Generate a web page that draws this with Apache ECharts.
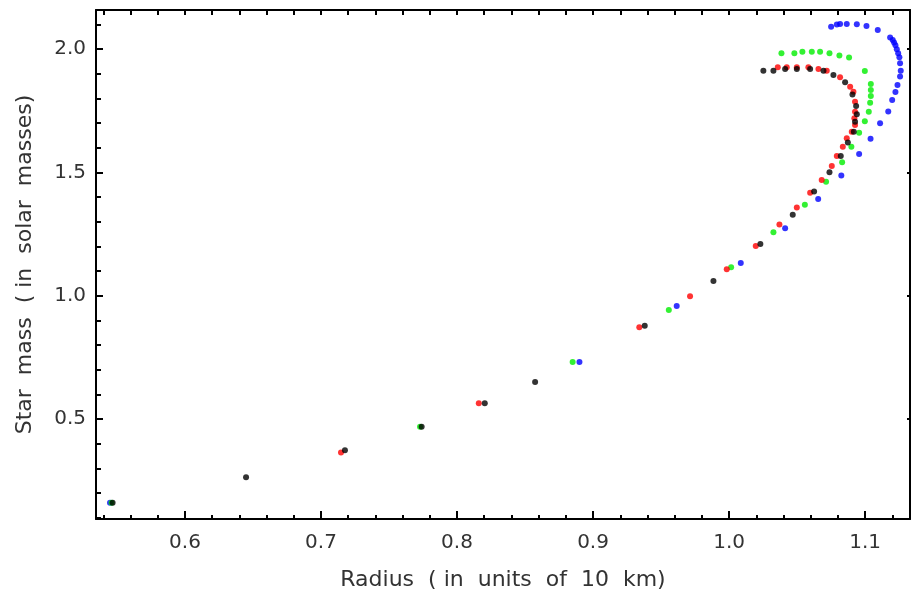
<!DOCTYPE html>
<html>
<head>
<meta charset="utf-8">
<script src="https://cdn.jsdelivr.net/npm/echarts@6/dist/echarts.min.js"></script>
<style>
  html, body { margin: 0; padding: 0; background: #fff; }
  #chart { width: 911px; height: 598px; }
</style>
</head>
<body>
<div id="chart"></div>
<script>
// Star mass vs radius, four runs (radius in 10 km, mass in solar masses)
const blackPoints = [
    [0.5468, 0.161], [0.6449, 0.264], [0.7176, 0.374], [0.774, 0.469], [0.8204, 0.564],
    [0.8574, 0.650], [0.938, 0.878], [0.9885, 1.060], [1.023, 1.210], [1.0468, 1.328],
    [1.0625, 1.422], [1.0738, 1.500], [1.0821, 1.566], [1.0873, 1.621], [1.0917, 1.665],
    [1.0926, 1.705], [1.0939, 1.735], [1.0934, 1.769], [1.0907, 1.816], [1.0853, 1.865],
    [1.0767, 1.895], [1.0694, 1.912], [1.0596, 1.919], [1.0498, 1.919], [1.0412, 1.919],
    [1.0326, 1.912], [1.0252, 1.912]
];
const redPoints = [
    [0.7147, 0.365], [0.816, 0.564], [0.934, 0.872], [0.9713, 0.998], [0.9983, 1.107],
    [1.0196, 1.201], [1.037, 1.289], [1.0498, 1.358], [1.0596, 1.417], [1.0681, 1.469],
    [1.0755, 1.526], [1.0792, 1.566], [1.0836, 1.604], [1.0865, 1.638], [1.0902, 1.665],
    [1.0926, 1.692], [1.0921, 1.719], [1.0926, 1.746], [1.0926, 1.786], [1.0914, 1.827],
    [1.0890, 1.847], [1.0816, 1.885], [1.0718, 1.912], [1.0657, 1.919], [1.0583, 1.926],
    [1.0498, 1.926], [1.0424, 1.926], [1.0358, 1.926]
];
const greenPoints = [
    [0.546, 0.161], [0.7728, 0.469], [0.885, 0.731], [0.9557, 0.942], [1.0015, 1.115],
    [1.0326, 1.257], [1.0557, 1.369], [1.0713, 1.462], [1.0831, 1.541], [1.0899, 1.604],
    [1.0956, 1.660], [1.0998, 1.707], [1.1027, 1.746], [1.1037, 1.782], [1.1042, 1.809],
    [1.1042, 1.834], [1.1042, 1.858], [1.0998, 1.911], [1.0882, 1.965], [1.0811, 1.974],
    [1.0738, 1.983], [1.0669, 1.989], [1.0608, 1.989], [1.0539, 1.989], [1.048, 1.983],
    [1.0385, 1.983]
];
const bluePoints = [
    [0.5449, 0.161], [0.890, 0.731], [0.9615, 0.958], [1.0086, 1.133], [1.0412, 1.273],
    [1.0655, 1.392], [1.0825, 1.487], [1.0956, 1.574], [1.104, 1.636], [1.111, 1.699],
    [1.117, 1.747], [1.1199, 1.793], [1.1223, 1.826], [1.1238, 1.854], [1.1257, 1.888],
    [1.1262, 1.912], [1.1257, 1.942], [1.1252, 1.966], [1.1243, 1.983], [1.1233, 1.999],
    [1.1223, 2.015], [1.1213, 2.026], [1.1203, 2.036], [1.1184, 2.047], [1.1093, 2.077],
    [1.101, 2.093], [1.0939, 2.100], [1.0865, 2.101], [1.0816, 2.101], [1.0792, 2.099],
    [1.075, 2.090]
];

// Tick positions
const xMajorTicks = [0.6, 0.7, 0.8, 0.9, 1.0, 1.1];
const xMinorTicks = [0.54, 0.56, 0.58, 0.62, 0.64, 0.66, 0.68, 0.72, 0.74, 0.76, 0.78,
    0.82, 0.84, 0.86, 0.88, 0.92, 0.94, 0.96, 0.98, 1.02, 1.04, 1.06, 1.08, 1.12];
const yMajorTicks = [0.5, 1.0, 1.5, 2.0];
const yMinorTicks = [0.1, 0.2, 0.3, 0.4, 0.6, 0.7, 0.8, 0.9, 1.1, 1.2, 1.3, 1.4,
    1.6, 1.7, 1.8, 1.9, 2.1];

const xRange = [0.5346, 1.133];
const yRange = [0.095, 2.158];

const FONT = '"DejaVu Sans", Verdana, sans-serif';
const lineStyle = { color: '#000', width: 2 };

function scatter(name, data, color) {
    return {
        name: name,
        type: 'scatter',
        data: data,
        symbol: 'circle',
        symbolSize: 6,
        itemStyle: { color: color },
        xAxisIndex: 0,
        yAxisIndex: 0,
        silent: true
    };
}

const chart = echarts.init(document.getElementById('chart'));

const option = {
    backgroundColor: '#fff',
    animation: false,
    grid: { left: 96, right: 1, top: 10, bottom: 79, containLabel: false },
    xAxis: [
        {
            type: 'value', position: 'bottom', min: xRange[0], max: xRange[1],
            name: 'Radius  ( in  units  of  10  km)',
            nameLocation: 'middle', nameGap: 50,
            nameTextStyle: { fontFamily: FONT, fontSize: 22, color: '#333' },
            axisLine: { show: true, lineStyle: lineStyle },
            axisTick: { show: true, inside: true, length: 8, customValues: xMajorTicks, lineStyle: lineStyle },
            axisLabel: {
                customValues: xMajorTicks, margin: 14,
                fontFamily: FONT, fontSize: 20, color: '#333',
                formatter: v => v.toFixed(1)
            },
            splitLine: { show: false }
        },
        {
            type: 'value', position: 'bottom', min: xRange[0], max: xRange[1],
            axisLine: { show: false },
            axisTick: { show: true, inside: true, length: 4, customValues: xMinorTicks, lineStyle: lineStyle },
            axisLabel: { show: false },
            splitLine: { show: false }
        },
        {
            type: 'value', position: 'top', min: xRange[0], max: xRange[1],
            axisLine: { show: true, lineStyle: lineStyle },
            axisTick: { show: true, inside: true, length: 5, customValues: xMinorTicks.concat(xMajorTicks), lineStyle: lineStyle },
            axisLabel: { show: false },
            splitLine: { show: false }
        }
    ],
    yAxis: [
        {
            type: 'value', position: 'left', min: yRange[0], max: yRange[1],
            name: 'Star  mass  ( in  solar  masses)',
            nameLocation: 'middle', nameGap: 60, nameRotate: 90,
            nameTextStyle: { fontFamily: FONT, fontSize: 22, color: '#333' },
            axisLine: { show: true, lineStyle: lineStyle },
            axisTick: { show: true, inside: true, length: 7, customValues: yMajorTicks, lineStyle: lineStyle },
            axisLabel: {
                customValues: yMajorTicks, margin: 10,
                fontFamily: FONT, fontSize: 20, color: '#333',
                formatter: v => v.toFixed(1)
            },
            splitLine: { show: false }
        },
        {
            type: 'value', position: 'left', min: yRange[0], max: yRange[1],
            axisLine: { show: false },
            axisTick: { show: true, inside: true, length: 5, customValues: yMinorTicks, lineStyle: lineStyle },
            axisLabel: { show: false },
            splitLine: { show: false }
        },
        {
            type: 'value', position: 'right', min: yRange[0], max: yRange[1],
            axisLine: { show: true, lineStyle: lineStyle },
            axisTick: { show: true, inside: true, length: 3, customValues: yMajorTicks, lineStyle: lineStyle },
            axisLabel: { show: false },
            splitLine: { show: false }
        }
    ],
    series: [
        scatter('blue', bluePoints, '#0000ff'),
        scatter('green', greenPoints, '#00ee00'),
        scatter('red', redPoints, '#ff0000'),
        scatter('black', blackPoints, '#000000')
    ]
};

chart.setOption(option);
</script>
</body>
</html>
